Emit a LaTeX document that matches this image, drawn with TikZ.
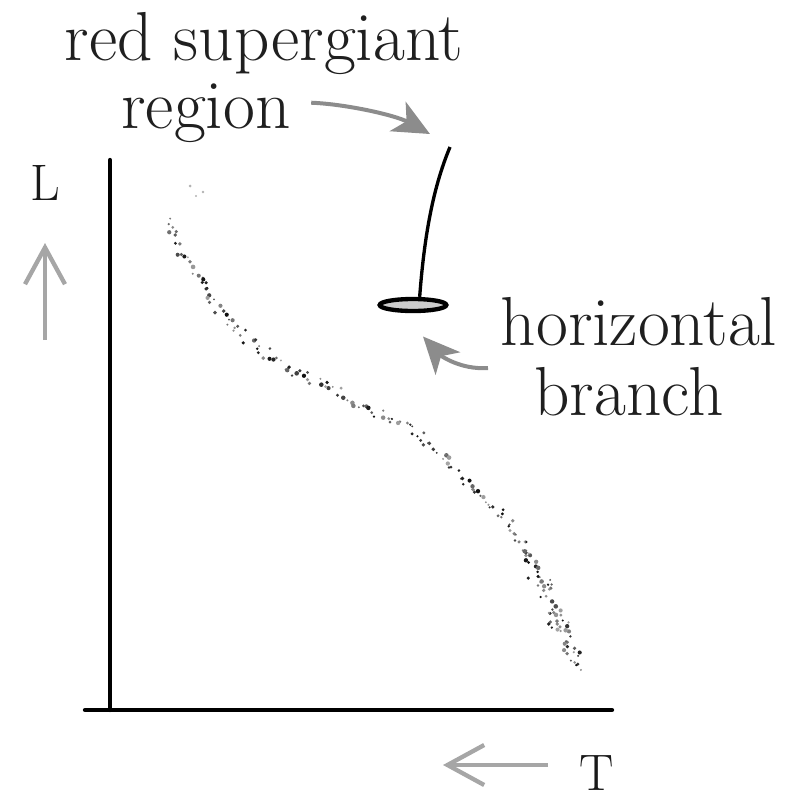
\documentclass[tikz,border=0pt]{standalone}
\usetikzlibrary{arrows.meta,shapes.geometric}
\tikzset{
  txt/.style={font=\fontsize{20.8}{22}\selectfont, text=black!88, inner sep=0pt},
  axlbl/.style={font=\fontsize{15.4}{17}\selectfont, text=black!90, inner sep=0pt},
  axis/.style={line width=1.3pt, line cap=round},
  axarrow/.style={draw=black!35, line width=1.3pt,
                  -{Straight Barb[length=11pt,width=12pt,line width=1.3pt]}},
  pointer/.style={draw=black!45, line width=1.2pt,
                  -{Stealth[length=11pt,width=10pt,inset=3pt]}},
  hbranch/.style={ellipse, draw=black, line width=1.3pt, fill=black!20,
                  minimum width=20pt, minimum height=3.6pt, inner sep=0pt}
}

\begin{document}
\begin{tikzpicture}[x=0.3pt,y=-0.3pt]
  \useasboundingbox (0,0) rectangle (793,805);

  % axes
  \coordinate (ytop) at (110,160);
  \coordinate (xleft) at (85,710);
  \coordinate (xright) at (612,710);
  \draw[axis] (ytop) -- (110,710);
  \draw[axis] (xleft) -- (xright);

  \node[axlbl, anchor=base] (L) at (45,200) {L};
  \coordinate (Lfoot) at (45,340);
  \coordinate (Lhead) at (45,243);
  \draw[axarrow] (Lfoot) -- (Lhead);

  \node[axlbl, anchor=base] (T) at (597,790) {T};
  \coordinate (Tfoot) at (548,765);
  \coordinate (Thead) at (443,765);
  \draw[axarrow] (Tfoot) -- (Thead);

  % main sequence: scattered stars along the track, spread in px
  \pgfmathsetseed{4242}
  \foreach \xa/\ya/\xb/\yb/\s in {166/213/180/247/4, 180/247/198/276/5, 198/276/230/324/5,
      230/324/280/365/5, 280/365/330/387/5, 330/387/387/417/5, 387/417/423/439/5,
      423/439/455/469/5, 455/469/501/513/5, 501/513/526/550/6,
      526/550/544/587/8, 544/587/559/624/10, 559/624/576/665/10}{
    \pgfmathsetmacro\n{int(veclen(\xb-\xa,\yb-\ya)/(18/\s))}
    \foreach \k in {1,...,\n}{
      \pgfmathsetmacro\t{\k/\n}
      \pgfmathsetmacro\shade{int(35+60*rnd)}
      \pgfmathsetmacro\px{\xa+(\xb-\xa)*\t+\s*rand}
      \pgfmathsetmacro\py{\ya+(\yb-\ya)*\t+\s*rand}
      \fill[black!\shade] (\px,\py) circle[radius={0.3pt+0.4pt*rnd}];
    }
  }
  \fill[black!30] (190,186) circle[radius=0.45pt] (196,196) circle[radius=0.35pt]
    (203,192) circle[radius=0.4pt];

  % giants
  \node[hbranch] (hb) at (413,305) {};
  \coordinate (rsgtop) at (450,147);
  \draw[line width=1pt] ([xshift=2pt]hb.north) .. controls (424,240) and (432,190) .. (rsgtop);

  % labels
  \node[txt, anchor=base] (rsg) at (264,60) {red supergiant};
  \node[txt, anchor=base] (region) at (206,128) {region};
  \coordinate (rsgtip) at (430,134);
  \draw[pointer] ([xshift=6pt,yshift=3pt]region.east) .. controls (345,104) and (395,115) .. (rsgtip);

  \node[txt, anchor=base] (horiz) at (639,345) {horizontal};
  \node[txt, anchor=base] (branch) at (629,415) {branch};
  \coordinate (hbtail) at (488,368);
  \draw[pointer] (hbtail) .. controls (460,370) and (440,355) .. ([xshift=3pt,yshift=-7pt]hb.south);
\end{tikzpicture}
\end{document}
